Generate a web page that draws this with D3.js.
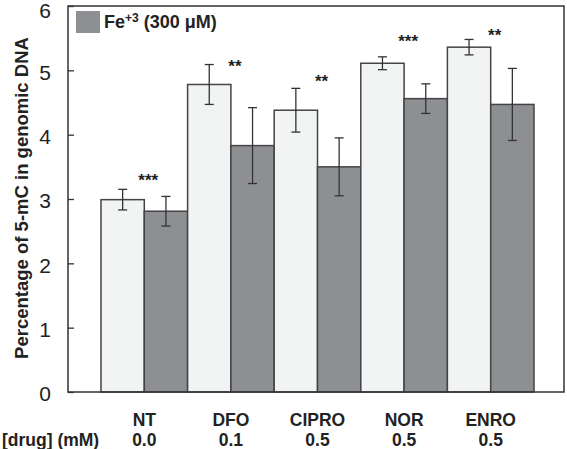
<!DOCTYPE html>
<html><head><meta charset="utf-8">
<script src="https://cdn.jsdelivr.net/npm/d3@7"></script>
<style>body{margin:0;background:#fff}svg{display:block}text{font-family:"Liberation Sans",Arial,sans-serif}</style>
</head><body><svg id="c" width="567" height="449"></svg>
<script>
const categories = ["NT","DFO","CIPRO","NOR","ENRO"];
const doses = ["0.0","0.1","0.5","0.5","0.5"];
const controlValues = [2.99, 4.78, 4.38, 5.11, 5.36];
const controlErrors = [0.16, 0.31, 0.34, 0.10, 0.12];
const ironValues = [2.81, 3.83, 3.50, 4.56, 4.47];
const ironErrors = [0.23, 0.59, 0.45, 0.23, 0.56];
const stars = ["***","**","**","***","**"];
const starLevels = [3.20, 4.97, 4.74, 5.37, 5.46];
const yTicks = [0,1,2,3,4,5,6];
const series = ["control","iron"];

const svg = d3.select("#c");
const L=68, T=6, R=564, B=392;
const x = d3.scaleBand().domain(categories).range([101,534]).padding(0);
const xs = d3.scaleBand().domain(series).range([0,x.bandwidth()]).padding(0);
const y = d3.scaleLinear().domain([0,6]).range([B,T]);
const fills = {control:"#f2f3f3", iron:"#8e8f93"};

const rows = [];
categories.forEach((c,i)=>{
  rows.push({c, s:"control", v:controlValues[i], e:controlErrors[i]});
  rows.push({c, s:"iron", v:ironValues[i], e:ironErrors[i]});
});

// bars
svg.append("g").selectAll("rect").data(rows).join("rect")
  .attr("x", d=>x(d.c)+xs(d.s)).attr("width", xs.bandwidth())
  .attr("y", d=>y(d.v)).attr("height", d=>y(0)-y(d.v))
  .attr("fill", d=>fills[d.s]).attr("stroke","#444").attr("stroke-width",1.5);

// error bars
const eg = svg.append("g").attr("stroke","#333").attr("stroke-width",1.3);
rows.forEach(d=>{
  const cx = x(d.c)+xs(d.s)+xs.bandwidth()/2;
  eg.append("line").attr("x1",cx).attr("x2",cx).attr("y1",y(d.v+d.e)).attr("y2",y(d.v-d.e));
  [d.v+d.e, d.v-d.e].forEach(v=>eg.append("line").attr("x1",cx-4.5).attr("x2",cx+4.5).attr("y1",y(v)).attr("y2",y(v)));
});

// frame
svg.append("rect").attr("x",L).attr("y",T).attr("width",R-L).attr("height",B-T)
  .attr("fill","none").attr("stroke","#333").attr("stroke-width",1.5);

// y axis
const yAxis = d3.axisLeft(y).tickValues(yTicks).tickSize(-6).tickPadding(17).tickFormat(d3.format("d"));
const ga = svg.append("g").attr("transform",`translate(${L},0)`).call(yAxis);
ga.select(".domain").remove();
ga.selectAll(".tick line").attr("stroke","#333").attr("stroke-width",1.3);
ga.selectAll(".tick text").attr("font-size",21).attr("fill","#222").attr("dy","0.42em")
  .attr("font-family","Liberation Sans, Arial, sans-serif");
ga.selectAll(".tick text").filter(d=>d===6).attr("dy","0.55em");

// y label
svg.append("text").attr("transform","translate(28,198) rotate(-90)")
  .attr("text-anchor","middle").attr("font-size",18.5).attr("font-weight","bold").attr("fill","#222")
  .text("Percentage of 5-mC in genomic DNA");

// stars
svg.append("g").selectAll("text").data(categories).join("text")
  .attr("x", (d)=>x(d)+x.bandwidth()/2+4).attr("y",(d,i)=>y(starLevels[i]))
  .attr("text-anchor","middle").attr("font-size",17).attr("font-weight","bold").attr("fill","#222")
  .text((d,i)=>stars[i]);

// x labels
svg.append("g").selectAll("text").data(categories).join("text")
  .attr("x", d=>x(d)+x.bandwidth()/2).attr("y",426)
  .attr("text-anchor","middle").attr("font-size",17.5).attr("font-weight","bold").attr("fill","#222")
  .text(d=>d);
svg.append("g").selectAll("text").data(doses).join("text")
  .attr("x", (d,i)=>x(categories[i])+x.bandwidth()/2).attr("y",446)
  .attr("text-anchor","middle").attr("font-size",17.5).attr("font-weight","bold").attr("fill","#222")
  .text(d=>d);
svg.append("text").attr("x",2).attr("y",446).attr("font-size",17.5).attr("font-weight","bold").attr("fill","#222")
  .text("[drug] (mM)");

// legend
svg.append("rect").attr("x",76).attr("y",11).attr("width",24).attr("height",22).attr("fill",fills.iron);
const lt = svg.append("text").attr("x",104).attr("y",28).attr("font-size",18).attr("font-weight","bold").attr("fill","#222");
lt.append("tspan").text("Fe");
lt.append("tspan").attr("font-size",12).attr("dy",-6).text("+3");
lt.append("tspan").attr("dy",6).text(" (300 μM)");
</script></body></html>
